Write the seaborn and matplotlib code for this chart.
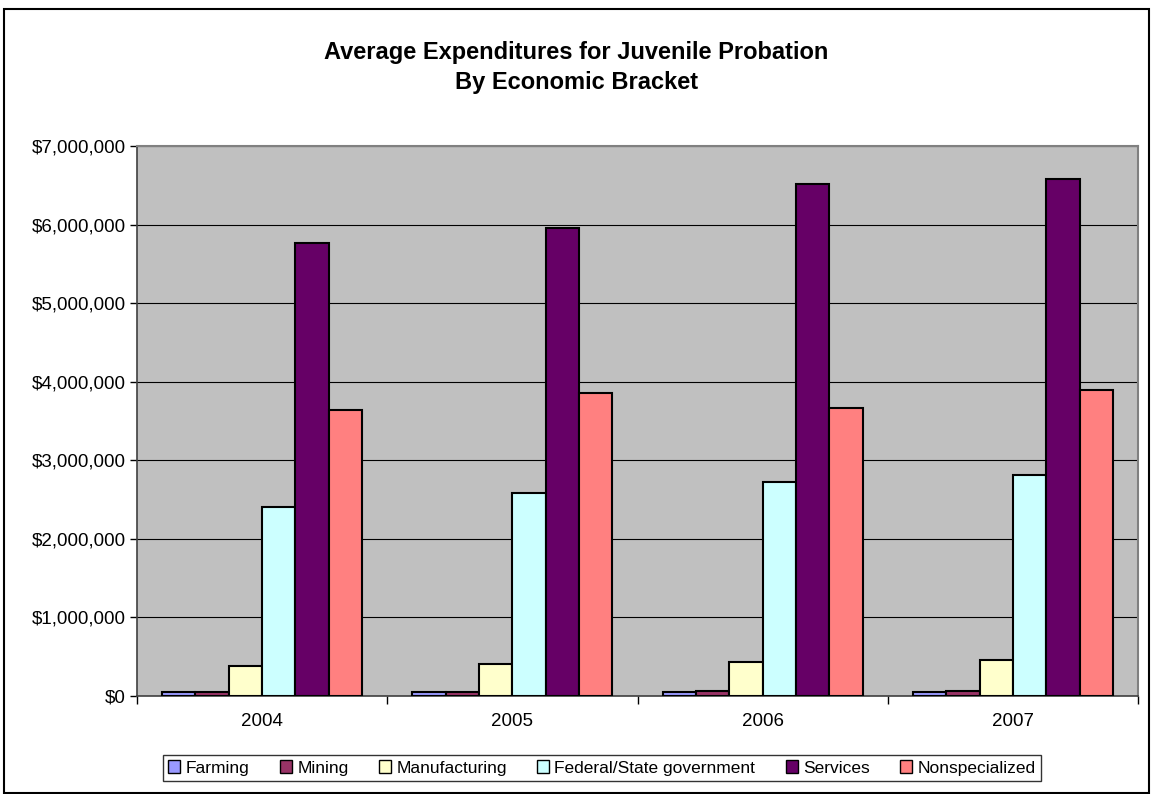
import matplotlib
matplotlib.use("Agg")
import matplotlib.pyplot as plt
import matplotlib.ticker as mticker
import numpy as np
import pandas as pd
import seaborn as sns

years = ["2004", "2005", "2006", "2007"]
series = ["Farming", "Mining", "Manufacturing", "Federal/State government", "Services", "Nonspecialized"]
farming = [45000, 45000, 45000, 50000]
mining = [55000, 55000, 65000, 65000]
manufacturing = [380000, 405000, 430000, 455000]
federal = [2405000, 2585000, 2725000, 2810000]
services = [5765000, 5960000, 6520000, 6580000]
nonspecialized = [3635000, 3855000, 3670000, 3895000]
colors = ["#9999FF", "#993366", "#FFFFCC", "#CCFFFF", "#660066", "#FF8080"]

values = [farming, mining, manufacturing, federal, services, nonspecialized]
rows = []
for s, vals in zip(series, values):
    for y, v in zip(years, vals):
        rows.append({"Year": y, "Series": s, "Value": v})
df = pd.DataFrame(rows)

sns.set_theme(style="white")
plt.rcParams["font.family"] = ["Liberation Sans", "DejaVu Sans"]
plt.rcParams["text.color"] = "black"

fig = plt.figure(figsize=(11.53, 7.94), dpi=100)
ax = fig.add_axes([137/1153, 1-696/794, (1138-137)/1153, (696-146)/794])
ax.set_facecolor("#C0C0C0")

sns.barplot(data=df, x="Year", y="Value", hue="Series", hue_order=series,
            palette=colors, order=years, width=0.8, edgecolor="black", saturation=1,
            linewidth=1.5, ax=ax, legend=True, zorder=3)

ax.set_ylim(0, 7000000)
ax.set_xlim(-0.5, 3.5)
ax.yaxis.set_major_locator(mticker.MultipleLocator(1000000))
ax.yaxis.set_major_formatter(mticker.FuncFormatter(lambda v, p: "${:,.0f}".format(v)))
ax.grid(axis="y", color="black", linewidth=0.8, zorder=1)
ax.set_axisbelow(True)
ax.set_xlabel("")
ax.set_ylabel("")
ax.tick_params(axis="y", which="major", length=5, width=1, color="black", direction="out",
               labelsize=13.5, pad=3, left=True, labelcolor="black")
ax.tick_params(axis="x", which="major", length=0, labelsize=13.5, pad=12, labelcolor="black")
ax.xaxis.set_minor_locator(mticker.FixedLocator([-0.5, 0.5, 1.5, 2.5, 3.5]))
ax.tick_params(axis="x", which="minor", length=6, width=1, color="black", direction="out", bottom=True)

for side in ["top", "right"]:
    ax.spines[side].set_color("#808080")
    ax.spines[side].set_linewidth(1.5)
for side in ["left", "bottom"]:
    ax.spines[side].set_color("#404040")
    ax.spines[side].set_linewidth(1.2)
    ax.spines[side].set_visible(True)

leg = ax.legend(loc="center", bbox_to_anchor=((602-137)/(1138-137), (696-768)/550),
                bbox_transform=ax.transAxes, ncol=6, frameon=True, fontsize=12.5,
                handlelength=0.7, handleheight=0.7, handletextpad=0.3, columnspacing=1.75,
                borderpad=0.3, fancybox=False, edgecolor="black")
leg.get_frame().set_linewidth(1.0)
for t in leg.get_texts():
    t.set_color("black")
for h in leg.legend_handles:
    h.set_edgecolor("black")
    h.set_linewidth(1.0)

fig.text(0.5, 1-52/794, "Average Expenditures for Juvenile Probation", ha="center", va="center",
         fontsize=17, fontweight="bold", color="black")
fig.text(0.5, 1-82/794, "By Economic Bracket", ha="center", va="center",
         fontsize=17, fontweight="bold", color="black")

border = plt.Rectangle((4/1153, 1/794), 1145/1153, 1-10/794, transform=fig.transFigure,
                       fill=False, edgecolor="black", linewidth=1.5)
fig.patches.append(border)

fig.savefig("out.png", dpi=100, facecolor="white")
